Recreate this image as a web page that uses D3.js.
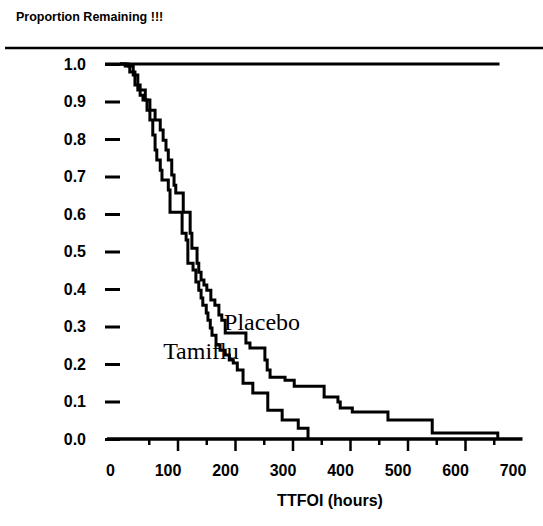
<!DOCTYPE html>
<html>
<head>
<meta charset="utf-8">
<script src="https://cdn.jsdelivr.net/npm/d3@7/dist/d3.min.js"></script>
<style>
  html, body { margin: 0; padding: 0; background: #fff; }
  svg { display: block; }
</style>
</head>
<body>
<svg id="chart" width="543" height="526"></svg>
<script>
// ---- data ----
const titleText = "Proportion Remaining !!!";
const xTitle = "TTFOI (hours)";
const xTickValues = [0, 100, 200, 300, 400, 500, 600, 700];
const xTickLabels = ["0", "100", "200", "300", "400", "500", "600", "700"];
const xMinorTicks = [50, 150, 250, 350, 450, 550, 650];
const yTickValues = [0, 0.1, 0.2, 0.3, 0.4, 0.5, 0.6, 0.7, 0.8, 0.9, 1.0];
const yTickLabels = ["0.0", "0.1", "0.2", "0.3", "0.4", "0.5", "0.6", "0.7", "0.8", "0.9", "1.0"];

// Kaplan–Meier steps: [hours, proportion remaining after the step]
const tamifluTimes = [0, 9, 17, 26, 35, 40, 47, 52, 57, 61, 64, 70, 73, 84, 87, 108, 115, 118, 127, 132, 137, 141, 144, 150, 153, 157, 160, 167, 174, 183, 190, 197, 204, 214, 231, 257, 282, 310, 327];
const tamifluSurv  = [1.0, 0.995, 0.979, 0.944, 0.917, 0.904, 0.877, 0.851, 0.811, 0.771, 0.744, 0.717, 0.691, 0.664, 0.605, 0.549, 0.531, 0.469, 0.451, 0.419, 0.397, 0.376, 0.357, 0.336, 0.317, 0.296, 0.277, 0.251, 0.237, 0.224, 0.211, 0.203, 0.184, 0.149, 0.123, 0.077, 0.051, 0.029, 0.0];

const placeboTimes = [0, 14, 23, 31, 44, 52, 61, 70, 75, 80, 84, 90, 94, 97, 110, 122, 125, 134, 137, 141, 146, 151, 158, 165, 172, 177, 183, 219, 226, 252, 256, 261, 287, 303, 355, 379, 383, 404, 466, 543, 657];
const placeboSurv  = [1.0, 0.995, 0.971, 0.931, 0.904, 0.877, 0.851, 0.824, 0.797, 0.771, 0.744, 0.704, 0.677, 0.656, 0.605, 0.549, 0.509, 0.469, 0.445, 0.424, 0.411, 0.397, 0.371, 0.357, 0.331, 0.317, 0.283, 0.256, 0.243, 0.211, 0.184, 0.165, 0.157, 0.141, 0.112, 0.099, 0.083, 0.072, 0.051, 0.016, 0.0];

const seriesLabels = ["Placebo", "Tamiflu"];
const labelAnchors = [[181, 0.29], [75, 0.213]]; // [hours, proportion] of label baselines
const refLineEnd = 660; // hours where the 1.0 reference line ends

// ---- drawing ----
const svg = d3.select("#chart");
const sans = "'Liberation Sans', Arial, Helvetica, sans-serif";
const serif = "'Liberation Serif', 'Times New Roman', serif";

const x = d3.scaleLinear().domain([0, 700]).range([120, 522.5]);
const y = d3.scaleLinear().domain([0, 1]).range([439, 64]);

// title + separator
svg.append("text")
  .attr("x", 16).attr("y", 21)
  .attr("font-family", sans).attr("font-weight", "bold").attr("font-size", 12.5)
  .attr("fill", "#000")
  .text(titleText);
svg.append("line")
  .attr("x1", 5).attr("x2", 543).attr("y1", 48).attr("y2", 48)
  .attr("stroke", "#000").attr("stroke-width", 2.5);

// y axis (dash ticks + labels)
const yAxis = d3.axisLeft(y)
  .tickValues(yTickValues)
  .tickSize(15)
  .tickPadding(19)
  .tickFormat((d, i) => yTickLabels[i]);
const gy = svg.append("g").attr("transform", `translate(${x(0)},0)`).call(yAxis);
gy.select(".domain").remove();
gy.selectAll(".tick line").attr("stroke", "#000").attr("stroke-width", 3);
gy.selectAll(".tick text")
  .attr("font-family", sans).attr("font-weight", "bold").attr("font-size", 16)
  .attr("fill", "#000");

// 1.0 line
svg.append("line")
  .attr("x1", x(0) - 15).attr("x2", x(refLineEnd))
  .attr("y1", y(1)).attr("y2", y(1))
  .attr("stroke", "#000").attr("stroke-width", 3);

// x axis: minor ticks
const gxMinor = svg.append("g").attr("transform", `translate(0,${y(0)})`)
  .call(d3.axisBottom(x).tickValues(xMinorTicks).tickSize(6).tickFormat(""));
gxMinor.select(".domain").remove();
gxMinor.selectAll(".tick line").attr("stroke", "#000").attr("stroke-width", 2.5);

// x axis: major ticks + labels
const gx = svg.append("g").attr("transform", `translate(0,${y(0)})`)
  .call(d3.axisBottom(x).tickValues(xTickValues).tickSize(12).tickPadding(14)
    .tickFormat((d, i) => xTickLabels[i]));
gx.select(".domain").remove();
gx.selectAll(".tick line")
  .attr("stroke", "#000").attr("stroke-width", 2.5)
  .attr("display", d => (d === 0 || d === 700) ? "none" : null);
gx.selectAll(".tick text")
  .attr("font-family", sans).attr("font-weight", "bold").attr("font-size", 16)
  .attr("fill", "#000").attr("dx", -10);

// x axis line
svg.append("line")
  .attr("x1", x(0) - 13).attr("x2", x(700))
  .attr("y1", y(0)).attr("y2", y(0))
  .attr("stroke", "#000").attr("stroke-width", 3.5);

// x axis title
svg.append("text")
  .attr("x", 330).attr("y", 506)
  .attr("text-anchor", "middle")
  .attr("font-family", sans).attr("font-weight", "bold").attr("font-size", 16)
  .attr("fill", "#000")
  .text(xTitle);

// series labels
seriesLabels.forEach((lab, i) => {
  svg.append("text")
    .attr("x", x(labelAnchors[i][0])).attr("y", y(labelAnchors[i][1]))
    .attr("font-family", serif).attr("font-size", 24)
    .attr("fill", "#000")
    .text(lab);
});

// curves
const line = d3.line()
  .x(d => x(d[0])).y(d => y(d[1]))
  .curve(d3.curveStepAfter);
const tamiflu = tamifluTimes.map((t, i) => [t, tamifluSurv[i]]);
const placebo = placeboTimes.map((t, i) => [t, placeboSurv[i]]);
[placebo, tamiflu].forEach(data => {
  svg.append("path")
    .datum(data)
    .attr("d", line)
    .attr("fill", "none")
    .attr("stroke", "#000")
    .attr("stroke-width", 3)
    .attr("stroke-linejoin", "miter");
});
</script>
</body>
</html>
